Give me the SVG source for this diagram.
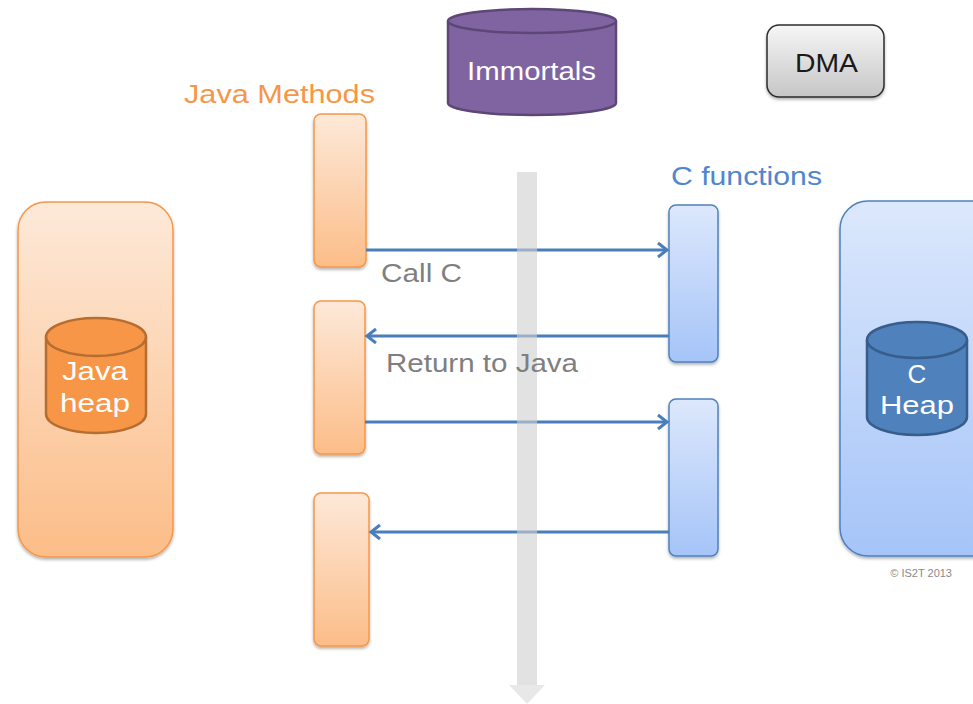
<svg xmlns="http://www.w3.org/2000/svg" width="973" height="704" viewBox="0 0 973 704">
<defs>
<linearGradient id="gOr" x1="0" y1="0" x2="0" y2="1"><stop offset="0" stop-color="#fde9d9"/><stop offset="1" stop-color="#fcbd88"/></linearGradient>
<linearGradient id="gBl" x1="0" y1="0" x2="0" y2="1"><stop offset="0" stop-color="#dce8fc"/><stop offset="1" stop-color="#a5c4f8"/></linearGradient>
<linearGradient id="gGr" x1="0" y1="0" x2="0" y2="1"><stop offset="0" stop-color="#f6f6f6"/><stop offset="1" stop-color="#c6c6c6"/></linearGradient>
<filter id="sh" x="-20%" y="-20%" width="140%" height="140%"><feDropShadow dx="0" dy="2" stdDeviation="1.5" flood-color="#000" flood-opacity="0.3"/></filter>
<marker id="ah" markerWidth="14" markerHeight="18" refX="11" refY="9" orient="auto" markerUnits="userSpaceOnUse"><path d="M2,2 L11,9 L2,16" fill="none" stroke="#4a7ebb" stroke-width="3"/></marker>
</defs>
<style>
.t{font-family:"Liberation Sans",Arial,sans-serif;font-size:26px}
.w{fill:#fff}
.or{fill:url(#gOr);stroke:#f79646;stroke-width:1.5}
.bl{fill:url(#gBl);stroke:#4f81bd;stroke-width:1.5}
.con{stroke:#4a7ebb;stroke-width:3;fill:none;marker-end:url(#ah)}
.lbl{fill:#7f7f7f}
</style>
<rect width="973" height="704" fill="#fff"/>

<g id="java-heap-area">
<rect x="18" y="202" width="155" height="355" rx="28" class="or" filter="url(#sh)"/>
</g>
<g id="java-heap">
<path d="M46,337 L46,414 A50,19 0 0 0 146,414 L146,337" fill="#f79646" stroke="#b66d31" stroke-width="2.5"/>
<ellipse cx="96" cy="337" rx="50" ry="19" fill="#f79646" stroke="#b66d31" stroke-width="2.5"/>
<text class="t w" x="62" y="380" textLength="66" lengthAdjust="spacingAndGlyphs">Java</text>
<text class="t w" x="60" y="412" textLength="70" lengthAdjust="spacingAndGlyphs">heap</text>
</g>

<g id="c-heap-area">
<rect x="840" y="201" width="160" height="355" rx="28" class="bl" filter="url(#sh)"/>
</g>
<g id="c-heap">
<path d="M867,340 L867,417 A50,18 0 0 0 967,417 L967,340" fill="#4f81bd" stroke="#385d8a" stroke-width="2.5"/>
<ellipse cx="917" cy="340" rx="50" ry="18" fill="#4f81bd" stroke="#385d8a" stroke-width="2.5"/>
<text class="t w" x="917" y="383" text-anchor="middle">C</text>
<text class="t w" x="880" y="414" textLength="74" lengthAdjust="spacingAndGlyphs">Heap</text>
</g>

<g id="immortals">
<path d="M448,21 L448,103 A84,12 0 0 0 616,103 L616,21" fill="#8064a2" stroke="#5c4776" stroke-width="2.5"/>
<ellipse cx="532" cy="21" rx="84" ry="12" fill="#8064a2" stroke="#5c4776" stroke-width="2.5"/>
<text class="t w" x="467" y="80" textLength="129" lengthAdjust="spacingAndGlyphs">Immortals</text>
</g>

<g id="dma">
<rect x="767" y="25" width="117" height="72" rx="12" fill="url(#gGr)" stroke="#2b2b2b" stroke-width="1.5" filter="url(#sh)"/>
<text class="t" x="795" y="72" fill="#1a1a1a" textLength="63" lengthAdjust="spacingAndGlyphs">DMA</text>
</g>

<g id="java-methods-label">
<text class="t" x="184" y="103" fill="#f79646" textLength="191" lengthAdjust="spacingAndGlyphs">Java Methods</text>
</g>
<g id="c-functions-label">
<text class="t" x="671" y="185" fill="#4f86d0" textLength="151" lengthAdjust="spacingAndGlyphs">C functions</text>
</g>

<g id="jm1"><rect x="314" y="114" width="52" height="153" rx="7" class="or" filter="url(#sh)"/></g>
<g id="jm2"><rect x="314" y="301" width="51" height="153" rx="7" class="or" filter="url(#sh)"/></g>
<g id="jm3"><rect x="314" y="493" width="55" height="153" rx="7" class="or" filter="url(#sh)"/></g>
<g id="cf1"><rect x="669" y="205" width="49" height="157" rx="7" class="bl" filter="url(#sh)"/></g>
<g id="cf2"><rect x="669" y="399" width="49" height="157" rx="7" class="bl" filter="url(#sh)"/></g>

<g id="connectors">
<line class="con" x1="366" y1="250" x2="667" y2="250"/>
<line class="con" x1="669" y1="336" x2="367" y2="336"/>
<line class="con" x1="365" y1="422" x2="667" y2="422"/>
<line class="con" x1="669" y1="532" x2="371" y2="532"/>
</g>

<g id="time-arrow" opacity="0.6">
<rect x="517" y="172" width="20" height="513" fill="#cfcfcf"/>
<path d="M509,685 L545,685 L527,704 Z" fill="#dadada"/>
</g>

<g id="labels">
<text class="t lbl" x="381" y="282" textLength="81" lengthAdjust="spacingAndGlyphs">Call C</text>
<text class="t lbl" x="386" y="372" textLength="192" lengthAdjust="spacingAndGlyphs">Return to Java</text>
</g>

<text x="952" y="577" text-anchor="end" font-family="'Liberation Sans',Arial,sans-serif" font-size="11" fill="#8a8a8a">© IS2T 2013</text>
</svg>
